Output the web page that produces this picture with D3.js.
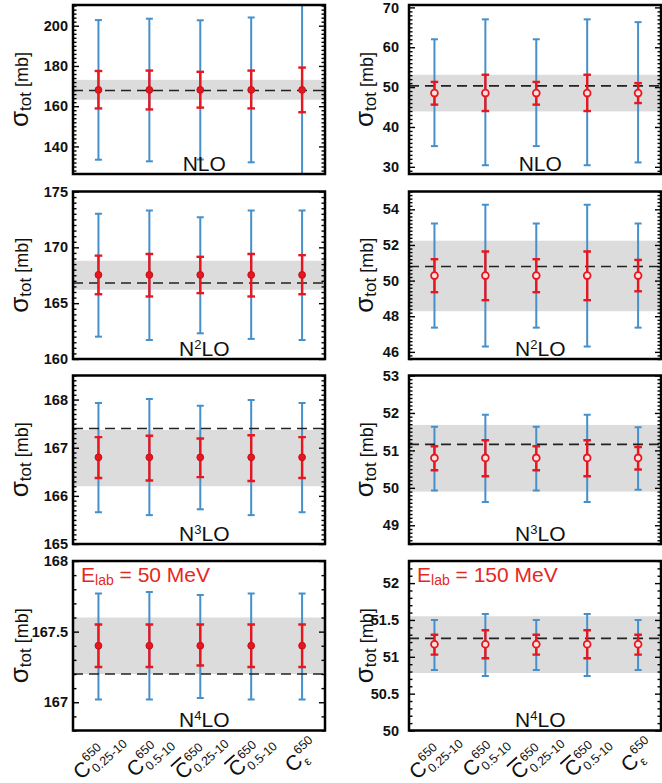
<!DOCTYPE html>
<html><head><meta charset="utf-8">
<script src="https://cdn.jsdelivr.net/npm/d3@7"></script>
<style>
body{margin:0;background:#fff}
svg{display:block}
text{font-family:"Liberation Sans",Arial,Helvetica,sans-serif}
</style>
</head><body>
<svg id="c" width="662" height="783"></svg>
<script>
// ---------------- data ----------------
const catSuper = ["650","650","650","650","650"];
const catSub   = ["0.25-10","0.5-10","0.25-10","0.5-10","ε"];
const catBar   = [false,false,true,true,false];
const categoryPos = [1,2,3,4,5];

const orderBase = ["NLO","N","N","N"];
const orderSup  = ["","2","3","4"];
const orderTail = ["","LO","LO","LO"];

const energies = [50,150];

// E_lab = 50 MeV (left column)
const yDomain50 = [[126.3,210.3],[160,175],[165,168.5],[166.8,168]];
const yTicks50  = [[140,160,180,200],[160,165,170,175],[165,166,167,168],[167,167.5,168]];
const yMinor50  = [2,0.5,0.1,0.1];
const center50  = [168.1,167.53,166.8,167.4];
const redHi50 = [
  [177.5,177.7,177.1,177.7,179.2],
  [169.26,169.4,169.15,169.4,169.3],
  [167.22,167.25,167.19,167.26,167.22],
  [167.55,167.55,167.55,167.55,167.55]];
const redLo50 = [
  [158.9,158.4,159.3,158.9,157.0],
  [165.8,165.6,165.9,165.6,165.8],
  [166.37,166.32,166.39,166.31,166.37],
  [167.25,167.25,167.26,167.25,167.25]];
const blueHi50 = [
  [202.8,203.5,202.7,204.1,222],
  [173.0,173.3,172.7,173.3,173.3],
  [167.93,168.01,167.87,167.99,167.93],
  [167.77,167.78,167.76,167.77,167.77]];
const blueLo50 = [
  [133.4,132.6,133.5,132.1,114],
  [162.0,161.7,162.3,161.8,161.7],
  [165.66,165.6,165.72,165.6,165.66],
  [167.02,167.02,167.03,167.02,167.02]];
const bandLo50 = [163.2,166.2,166.2,167.2];
const bandHi50 = [173.1,168.8,167.37,167.6];
const ref50    = [167.8,166.8,167.4,167.2];

// E_lab = 150 MeV (right column)
const yDomain150 = [[28.2,70.6],[45.6,55],[48.5,53],[50,52.3]];
const yTicks150  = [[30,40,50,60,70],[46,48,50,52,54],[49,50,51,52,53],[50,50.5,51,51.5,52]];
const yMinor150  = [1,0.2,0.1,0.1];
const center150  = [48.5,50.28,50.8,51.17];
const redHi150 = [
  [51.3,53.1,51.3,53.1,51.0],
  [51.2,51.63,51.2,51.63,51.16],
  [51.11,51.27,51.11,51.27,51.09],
  [51.3,51.36,51.3,51.36,51.3]];
const redLo150 = [
  [45.6,44.0,45.6,44.0,46.0],
  [49.35,48.9,49.35,48.9,49.4],
  [50.47,50.31,50.47,50.31,50.49],
  [51.03,50.98,51.03,50.98,51.03]];
const blueHi150 = [
  [62.0,67.0,62.0,67.0,66.3],
  [53.2,54.26,53.2,54.26,53.2],
  [51.63,51.95,51.63,51.95,51.62],
  [51.5,51.58,51.5,51.58,51.5]];
const blueLo150 = [
  [35.2,30.4,35.2,30.4,31.1],
  [47.36,46.3,47.36,46.3,47.36],
  [49.93,49.62,49.93,49.62,49.95],
  [50.82,50.74,50.82,50.74,50.82]];
const bandLo150 = [43.9,48.28,49.9,50.78];
const bandHi150 = [53.1,52.24,51.68,51.55];
const ref150    = [50.3,50.79,51.16,51.25];

// ---------------- layout ----------------
const colX = [[73,325],[409,661]];
const rowY = [[5,174],[191.5,359],[375.5,544],[561,730.5]];
const BLUE = "#4590cb", RED = "#e8161e", BAND = "#dcdcdc", ELAB = "#e5281f";

const sets = [
  {energy:energies[0], dom:yDomain50, ticks:yTicks50, minor:yMinor50, center:center50,
   rLo:redLo50, rHi:redHi50, bLo:blueLo50, bHi:blueHi50, bandLo:bandLo50, bandHi:bandHi50,
   ref:ref50, hollow:false, gap:5, labX:28},
  {energy:energies[1], dom:yDomain150, ticks:yTicks150, minor:yMinor150, center:center150,
   rLo:redLo150, rHi:redHi150, bLo:blueLo150, bHi:blueHi150, bandLo:bandLo150, bandHi:bandHi150,
   ref:ref150, hollow:true, gap:10, labX:372.5}
];

const svg = d3.select("#c");
const defs = svg.append("defs");

sets.forEach((S, c) => {
  const [x0,x1] = colX[c];
  const x = d3.scaleLinear().domain([0.5,5.45]).range([x0,x1]);
  rowY.forEach(([y0,y1], r) => {
    const y = d3.scaleLinear().domain(S.dom[r]).range([y1,y0]);
    const id = `clip${c}${r}`;
    defs.append("clipPath").attr("id", id).append("rect")
      .attr("x", x0).attr("y", y0).attr("width", x1-x0).attr("height", y1-y0);
    const g = svg.append("g");
    const p = g.append("g").attr("clip-path", `url(#${id})`);

    // band
    p.append("rect").attr("x", x0).attr("width", x1-x0)
      .attr("y", y(S.bandHi[r])).attr("height", y(S.bandLo[r]) - y(S.bandHi[r]))
      .attr("fill", BAND);

    const idx = d3.range(5);
    const bar = (lo, hi, color, w, cap) => {
      p.selectAll(null).data(idx).join("line")
        .attr("x1", i => x(categoryPos[i])).attr("x2", i => x(categoryPos[i]))
        .attr("y1", i => y(lo[i])).attr("y2", i => y(hi[i]))
        .attr("stroke", color).attr("stroke-width", w);
      [lo, hi].forEach(arr => {
        p.selectAll(null).data(idx).join("line")
          .attr("x1", i => x(categoryPos[i]) - cap).attr("x2", i => x(categoryPos[i]) + cap)
          .attr("y1", i => y(arr[i])).attr("y2", i => y(arr[i]))
          .attr("stroke", color).attr("stroke-width", w);
      });
    };
    bar(S.bLo[r], S.bHi[r], BLUE, 2, 3.5);

    // dashed reference
    p.append("line").attr("x1", x0).attr("x2", x1)
      .attr("y1", y(S.ref[r])).attr("y2", y(S.ref[r]))
      .attr("stroke", "#222").attr("stroke-width", 1.6).attr("stroke-dasharray", "10,6");

    bar(S.rLo[r], S.rHi[r], RED, 2.4, 3.8);

    // markers
    p.selectAll(null).data(idx).join("circle")
      .attr("cx", i => x(categoryPos[i])).attr("cy", () => y(S.center[r]))
      .attr("r", 3.4)
      .attr("fill", S.hollow ? "#ffe1e1" : RED)
      .attr("stroke", S.hollow ? RED : "#c4101a").attr("stroke-width", S.hollow ? 1.8 : 1);

    // axes
    const majors = S.ticks[r];
    const st = S.minor[r];
    const d = S.dom[r];
    const minors = d3.range(Math.ceil(d[0]/st - 1e-6), Math.floor(d[1]/st + 1e-6) + 1)
      .map(k => +(k*st).toFixed(4))
      .filter(v => !majors.some(m => Math.abs(m - v) < st/10));

    const axL = g.append("g").attr("transform", `translate(${x0},0)`)
      .call(d3.axisLeft(y).tickValues(majors).tickSize(-6).tickPadding(S.gap).tickFormat(d3.format("~g")));
    g.append("g").attr("transform", `translate(${x0},0)`)
      .call(d3.axisLeft(y).tickValues(minors).tickSize(-3.5).tickFormat(""));
    g.append("g").attr("transform", `translate(${x1},0)`)
      .call(d3.axisRight(y).tickValues(majors).tickSize(-6).tickFormat(""));
    g.append("g").attr("transform", `translate(${x1},0)`)
      .call(d3.axisRight(y).tickValues(minors).tickSize(-3.5).tickFormat(""));
    g.selectAll(".domain").remove();
    g.selectAll(".tick line").attr("stroke", "#000").attr("stroke-width", 1.4);
    axL.selectAll(".tick text").attr("font-size", 14.5).attr("font-weight", "bold")
      .attr("fill", "#111").attr("font-family", '"Liberation Sans",Arial,sans-serif');

    // frame
    g.append("rect").attr("x", x0).attr("y", y0).attr("width", x1-x0).attr("height", y1-y0)
      .attr("fill", "none").attr("stroke", "#000").attr("stroke-width", 2.5);

    // order label
    const ot = g.append("text").attr("x", x(3) + 4).attr("y", y1 - 3.5)
      .attr("text-anchor", "middle").attr("font-size", 21).attr("fill", "#111");
    ot.append("tspan").text(orderBase[r]);
    if (orderSup[r]) {
      ot.append("tspan").text(orderSup[r]).attr("font-size", 13).attr("dy", -7);
      ot.append("tspan").text(orderTail[r]).attr("dy", 7);
    }

    // y label
    const yl = g.append("text")
      .attr("transform", `translate(${S.labX},${(y0+y1)/2}) rotate(-90)`)
      .attr("text-anchor", "middle").attr("fill", "#111");
    yl.append("tspan").text("σ").attr("font-size", 26);
    yl.append("tspan").text("tot").attr("font-size", 17).attr("dy", 3);
    yl.append("tspan").text(" [mb]").attr("font-size", 18).attr("dy", -3);

    // E_lab label on bottom row
    if (r === rowY.length - 1) {
      const el = g.append("text").attr("x", x0 + 8).attr("y", y0 + 21).attr("fill", ELAB);
      el.append("tspan").text("E").attr("font-size", 21);
      el.append("tspan").text("lab").attr("font-size", 14).attr("dy", 3);
      el.append("tspan").text(` = ${S.energy} MeV`).attr("font-size", 21).attr("dy", -3);

      // category labels
      categoryPos.forEach((cp, i) => {
        const outer = svg.append("g");
        const inner = outer.append("g");
        const cT = inner.append("text").attr("x", 0).attr("y", 0)
          .attr("font-size", 21).attr("fill", "#111").text("C");
        const cw = cT.node().getComputedTextLength();
        inner.append("text").attr("x", cw + 1).attr("y", -10)
          .attr("font-size", 12.5).attr("fill", "#111").text(catSuper[i]);
        inner.append("text").attr("x", cw + 1).attr("y", 5)
          .attr("font-size", 12.5).attr("fill", "#111").text(catSub[i]);
        if (catBar[i]) {
          inner.append("line").attr("x1", 0.5).attr("x2", cw - 1)
            .attr("y1", -18.5).attr("y2", -18.5).attr("stroke", "#111").attr("stroke-width", 1.8);
        }
        const bb = inner.node().getBBox();
        inner.attr("transform", `translate(${-bb.x - bb.width/2},${-bb.y - bb.height/2})`);
        outer.attr("transform", `translate(${x(cp)},756) rotate(-42)`);
      });
    }
  });
});
</script>
</body></html>
